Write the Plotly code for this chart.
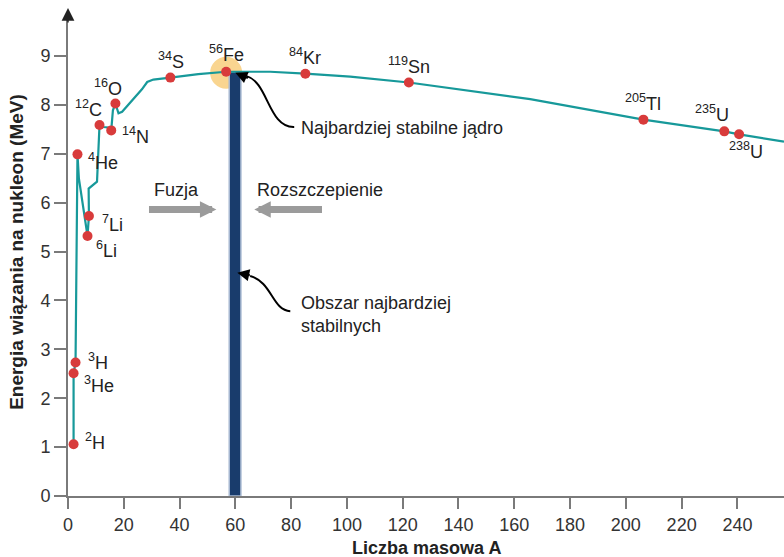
import plotly.graph_objects as go

# binding energy per nucleon curve
curve_a = [2.0, 2.0, 2.7, 3.4, 3.9, 4.8, 5.5, 6.7, 7.0, 7.5, 7.4, 10.4, 11.0, 11.3, 12.7, 14.4, 15.5, 16.1,
           17.0, 18.1, 19.4, 26.5, 28.4, 30.6, 36.7, 46.7, 56.7, 72.5, 85.1, 101.2, 122.2, 165.7, 206.3,
           235.3, 240.6, 256.7]
curve_e = [1.06, 2.51, 2.73, 6.99, 6.50, 6.16, 5.81, 5.44, 5.32, 5.73, 6.29, 6.43, 7.08, 7.59, 7.55, 7.54,
           7.48, 7.89, 8.03, 7.83, 7.86, 8.32, 8.47, 8.52, 8.56, 8.63, 8.68, 8.68, 8.64, 8.58, 8.46, 8.12,
           7.70, 7.46, 7.40, 7.25]

# marked nuclides
nuc_a = [2.0, 2.0, 2.7, 3.4, 7.0, 7.5, 11.3, 15.5, 17.0, 36.7, 56.7, 85.1, 122.2, 206.3, 235.3, 240.6]
nuc_e = [1.06, 2.51, 2.73, 6.99, 5.32, 5.73, 7.59, 7.48, 8.03, 8.56, 8.68, 8.64, 8.46, 7.70, 7.46, 7.40]
nuc_mass = ["2", "3", "3", "4", "6", "7", "12", "14", "16", "34", "56", "84", "119", "205", "235", "238"]
nuc_sym = ["H", "He", "H", "He", "Li", "Li", "C", "N", "O", "S", "Fe", "Kr", "Sn", "Tl", "U", "U"]

# label placement for each nuclide (x, y, anchor)
lab_x = [5.5, 5.0, 6.6, 6.6, 9.2, 11.6, 12.8, 18.7, 14.4, 36.9, 56.7, 85.0, 122.2, 206.3, 231.0, 243.0]
lab_y = [1.12, 2.29, 2.76, 6.85, 5.05, 5.58, 7.93, 7.38, 8.36, 8.90, 9.06, 8.99, 8.81, 8.06, 7.83, 7.07]
lab_anchor = ["left", "left", "left", "left", "left", "left", "right", "left", "center", "center", "center",
              "center", "center", "center", "center", "center"]

# region of most stable nuclei
stable_a = [59.9]
stable_e = [8.68]
stable_width = 4.2

FONT = "Liberation Sans, Arial, sans-serif"
AXIS = "#7a7a7a"
fe = nuc_sym.index("Fe")

fig = go.Figure()
fig.add_trace(go.Bar(x=stable_a, y=stable_e, width=stable_width,
                     marker=dict(color="#193c6c", line=dict(color="#a9bad3", width=1.5)),
                     hoverinfo="skip"))
fig.add_trace(go.Scatter(x=curve_a, y=curve_e, mode="lines", line=dict(color="#17999a", width=2.2),
                         hoverinfo="skip"))
fig.add_trace(go.Scatter(x=nuc_a, y=nuc_e, mode="markers", marker=dict(color="#d83b3b", size=10),
                         text=[m + s for m, s in zip(nuc_mass, nuc_sym)]))

# soft highlight behind iron
fig.add_shape(type="circle", layer="below", xref="x", yref="y",
              xsizemode="pixel", ysizemode="pixel", xanchor=nuc_a[fe], yanchor=nuc_e[fe],
              x0=-16, x1=16, y0=-17, y1=15, fillcolor="#f9d590", line=dict(width=0))

annotations = []
for i in range(len(nuc_sym)):
    annotations.append(dict(x=lab_x[i], y=lab_y[i], xref="x", yref="y", showarrow=False,
                            xanchor=lab_anchor[i], yanchor="middle",
                            text="<sup>" + nuc_mass[i] + "</sup>" + nuc_sym[i],
                            font=dict(family=FONT, size=18, color="#222222")))

# text notes
annotations.append(dict(x=82.7, y=7.53, xref="x", yref="y", showarrow=False, xanchor="left",
                        text="Najbardziej stabilne jądro", font=dict(family=FONT, size=18, color="#222222")))
annotations.append(dict(x=82.7, y=3.71, xref="x", yref="y", showarrow=False, xanchor="left", align="left",
                        text="Obszar najbardziej<br>stabilnych", font=dict(family=FONT, size=18, color="#222222")))
annotations.append(dict(x=30.1, y=6.27, xref="x", yref="y", showarrow=False, xanchor="left",
                        text="Fuzja", font=dict(family=FONT, size=18, color="#222222")))
annotations.append(dict(x=67.1, y=6.27, xref="x", yref="y", showarrow=False, xanchor="left",
                        text="Rozszczepienie", font=dict(family=FONT, size=18, color="#222222")))

# grey fusion / fission arrows
annotations.append(dict(x=53.2, y=5.86, ax=28.5, ay=5.86, xref="x", yref="y", axref="x", ayref="y",
                        text="", showarrow=True, arrowhead=2, arrowsize=0.47, arrowwidth=7,
                        arrowcolor="#9b9b9b", standoff=0))
annotations.append(dict(x=66.8, y=5.86, ax=91.6, ay=5.86, xref="x", yref="y", axref="x", ayref="y",
                        text="", showarrow=True, arrowhead=2, arrowsize=0.47, arrowwidth=7,
                        arrowcolor="#9b9b9b", standoff=0))

# curved pointer lines
fig.add_shape(type="path", xref="x", yref="y", path="M 81.1,7.55 C 71.8,7.53 71.8,8.47 64.0,8.59",
              line=dict(color="black", width=2))
fig.add_shape(type="path", xref="x", yref="y", path="M 79.7,3.78 C 73.2,3.80 73.2,4.38 65.3,4.50",
              line=dict(color="black", width=2))
annotations.append(dict(x=60.0, y=8.66, ax=14, ay=6, xref="x", yref="y", text="", showarrow=True,
                        arrowhead=2, arrowsize=1.2, arrowwidth=2, arrowcolor="black", standoff=0))
annotations.append(dict(x=60.7, y=4.57, ax=14, ay=3, xref="x", yref="y", text="", showarrow=True,
                        arrowhead=2, arrowsize=1.2, arrowwidth=2, arrowcolor="black", standoff=0))

# arrow tip on the y axis (paper coords so it is not hidden outside the range)
annotations.append(dict(x=0, y=1.019, ax=0, ay=16, xref="paper", yref="paper", text="", showarrow=True,
                        arrowhead=2, arrowsize=1.7, arrowwidth=1.5, arrowcolor="#222222", standoff=0))

# axis titles
annotations.append(dict(x=0.5, y=-0.109, xref="paper", yref="paper", showarrow=False, yanchor="middle",
                        text="<b>Liczba masowa A</b>", font=dict(family=FONT, size=18, color="#222222")))
annotations.append(dict(x=-0.071, y=0.51, xref="paper", yref="paper", showarrow=False, textangle=-90,
                        xanchor="center", yanchor="middle",
                        text="<b>Energia wiązania na nukleon (MeV)</b>",
                        font=dict(family=FONT, size=19, color="#222222")))

fig.update_layout(
    width=784, height=557,
    margin=dict(l=68, r=0, t=17, b=61, autoexpand=False),
    plot_bgcolor="white", paper_bgcolor="white",
    showlegend=False,
    annotations=annotations,
    xaxis=dict(range=[0, 256.7], tickmode="array", tickvals=list(range(0, 241, 20)),
               showgrid=False, zeroline=False, showline=True, linecolor=AXIS, linewidth=2,
               ticks="outside", ticklen=11, tickwidth=1.5, tickcolor=AXIS,
               tickfont=dict(family=FONT, size=18, color="#333333")),
    yaxis=dict(range=[0, 9.8], tickmode="array", tickvals=list(range(0, 10)),
               showgrid=False, zeroline=False, showline=True, linecolor=AXIS, linewidth=2,
               ticks="outside", ticklen=12, tickwidth=1.5, tickcolor=AXIS,
               tickfont=dict(family=FONT, size=18, color="#333333")),
)

# the page body has a default margin; drop it so the figure sits at the window corner
fig.write_html("out.html", config={"displayModeBar": False},
               post_script="document.body.style.margin='0';")
